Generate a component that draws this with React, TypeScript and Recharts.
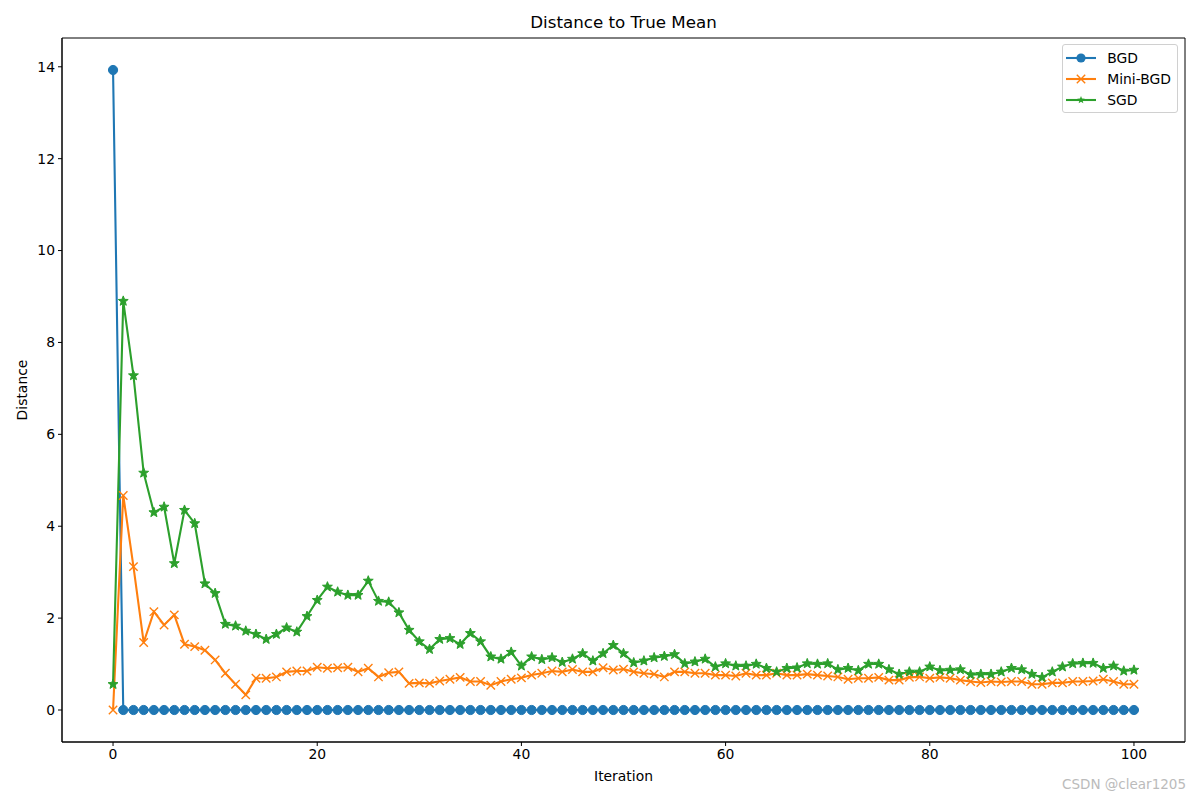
import React from "react";
import { LineChart, Line, XAxis, YAxis, ReferenceArea } from "recharts";

const iterations = [
  0, 1, 2, 3, 4, 5, 6, 7, 8, 9, 10, 11, 12, 13, 14, 15, 16, 17, 18, 19, 20,
  21, 22, 23, 24, 25, 26, 27, 28, 29, 30, 31, 32, 33, 34, 35, 36, 37, 38, 39,
  40, 41, 42, 43, 44, 45, 46, 47, 48, 49, 50, 51, 52, 53, 54, 55, 56, 57, 58,
  59, 60, 61, 62, 63, 64, 65, 66, 67, 68, 69, 70, 71, 72, 73, 74, 75, 76, 77,
  78, 79, 80, 81, 82, 83, 84, 85, 86, 87, 88, 89, 90, 91, 92, 93, 94, 95, 96,
  97, 98, 99, 100,
];

const bgdValues = [
  13.93, 0, 0, 0, 0, 0, 0, 0, 0, 0, 0, 0, 0, 0, 0, 0, 0, 0, 0, 0, 0,
  0, 0, 0, 0, 0, 0, 0, 0, 0, 0, 0, 0, 0, 0, 0, 0, 0, 0, 0,
  0, 0, 0, 0, 0, 0, 0, 0, 0, 0, 0, 0, 0, 0, 0, 0, 0, 0, 0,
  0, 0, 0, 0, 0, 0, 0, 0, 0, 0, 0, 0, 0, 0, 0, 0, 0, 0, 0,
  0, 0, 0, 0, 0, 0, 0, 0, 0, 0, 0, 0, 0, 0, 0, 0, 0, 0, 0,
  0, 0, 0, 0,
];

const miniBgdValues = [
  0.0, 4.67, 3.12, 1.47, 2.14, 1.85, 2.07, 1.43, 1.38, 1.3, 1.09, 0.8, 0.56,
  0.33, 0.69, 0.69, 0.72, 0.83, 0.85, 0.85, 0.93, 0.91, 0.92, 0.93, 0.83,
  0.91, 0.72, 0.81, 0.83, 0.58, 0.59, 0.58, 0.63, 0.67, 0.71, 0.62, 0.62,
  0.54, 0.62, 0.67, 0.7, 0.76, 0.8, 0.85, 0.83, 0.88, 0.83, 0.83, 0.92, 0.87,
  0.89, 0.83, 0.8, 0.78, 0.72, 0.83, 0.83, 0.8, 0.8, 0.76, 0.76, 0.74, 0.8,
  0.76, 0.76, 0.8, 0.76, 0.76, 0.78, 0.76, 0.74, 0.72, 0.67, 0.69, 0.69, 0.71,
  0.65, 0.65, 0.71, 0.72, 0.69, 0.71, 0.69, 0.65, 0.62, 0.6, 0.62, 0.61, 0.62,
  0.62, 0.56, 0.56, 0.59, 0.59, 0.62, 0.62, 0.63, 0.67, 0.62, 0.56, 0.56,
];

const sgdValues = [
  0.56, 8.9, 7.28, 5.16, 4.3, 4.42, 3.19, 4.35, 4.06, 2.75, 2.54, 1.87, 1.83,
  1.72, 1.65, 1.54, 1.65, 1.79, 1.7, 2.04, 2.39, 2.68, 2.57, 2.5, 2.5, 2.81,
  2.37, 2.35, 2.12, 1.74, 1.49, 1.32, 1.54, 1.56, 1.43, 1.67, 1.49, 1.16,
  1.11, 1.26, 0.96, 1.16, 1.1, 1.14, 1.04, 1.11, 1.23, 1.07, 1.23, 1.41, 1.23,
  1.03, 1.07, 1.14, 1.17, 1.21, 1.01, 1.05, 1.11, 0.94, 1.01, 0.96, 0.96, 1.0,
  0.91, 0.83, 0.91, 0.92, 1.01, 1.0, 1.01, 0.88, 0.91, 0.86, 1.0, 1.0, 0.88,
  0.78, 0.83, 0.83, 0.94, 0.86, 0.87, 0.88, 0.77, 0.78, 0.78, 0.83, 0.91,
  0.88, 0.78, 0.71, 0.83, 0.94, 1.01, 1.02, 1.02, 0.91, 0.96, 0.85, 0.87,
];

const xTicks = [0, 20, 40, 60, 80, 100];
const yTicks = [0, 2, 4, 6, 8, 10, 12, 14];

const data = iterations.map((it, i) => ({
  iteration: it,
  bgd: bgdValues[i],
  mini: miniBgdValues[i],
  sgd: sgdValues[i],
}));

const BLUE = "#1f77b4";
const ORANGE = "#ff7f0e";
const GREEN = "#2ca02c";
const FONT = "'DejaVu Sans', sans-serif";

function starPath(cx: number, cy: number, ro: number, ri: number) {
  let d = "";
  for (let k = 0; k < 10; k++) {
    const r = k % 2 === 0 ? ro : ri;
    const a = -Math.PI / 2 + (k * Math.PI) / 5;
    d += (k === 0 ? "M" : "L") + (cx + r * Math.cos(a)) + "," + (cy + r * Math.sin(a));
  }
  return d + "Z";
}

const CircleDot = (p: any) => (
  <circle key={p.key} cx={p.cx} cy={p.cy} r={4.6} fill={BLUE} stroke={BLUE} strokeWidth={1} />
);

const CrossDot = (p: any) => {
  const s = 4.2;
  return (
    <path
      key={p.key}
      d={`M${p.cx - s},${p.cy - s}L${p.cx + s},${p.cy + s}M${p.cx - s},${p.cy + s}L${p.cx + s},${p.cy - s}`}
      stroke={ORANGE}
      strokeWidth={1.4}
      fill="none"
    />
  );
};

const StarDot = (p: any) => (
  <path key={p.key} d={starPath(p.cx, p.cy, 5.2, 2.2)} fill={GREEN} stroke={GREEN} strokeWidth={1} />
);

const legendItems = [
  { name: "BGD", color: BLUE, kind: "circle" },
  { name: "Mini-BGD", color: ORANGE, kind: "cross" },
  { name: "SGD", color: GREEN, kind: "star" },
];

function LegendBox() {
  return (
    <div
      style={{
        position: "absolute",
        top: 44,
        right: 22,
        border: "1px solid #d0d0d0",
        borderRadius: 3,
        background: "rgba(255,255,255,0.8)",
        padding: "2px 6px 2px 2px",
        fontFamily: FONT,
        fontSize: 13.9,
        color: "#000",
        whiteSpace: "nowrap",
      }}
    >
      {legendItems.map((it) => (
        <div key={it.name} style={{ display: "flex", alignItems: "center", height: 21 }}>
          <svg width={32} height={14} style={{ marginRight: 10, flexShrink: 0 }}>
            <line x1={1} y1={7} x2={31} y2={7} stroke={it.color} strokeWidth={2.1} />
            {it.kind === "circle" && <circle cx={16} cy={7} r={4.6} fill={it.color} />}
            {it.kind === "cross" && (
              <path d="M11.8,2.8L20.2,11.2M11.8,11.2L20.2,2.8" stroke={it.color} strokeWidth={1.4} />
            )}
            {it.kind === "star" && <path d={starPath(16, 7, 4, 1.7)} fill={it.color} />}
          </svg>
          <span>{it.name}</span>
        </div>
      ))}
    </div>
  );
}

export default function App() {
  const tickStyle = { fill: "#000", fontSize: 13.9, fontFamily: FONT };
  return (
    <div style={{ position: "absolute", left: 0, top: 0, width: 1200, height: 800, background: "#fff" }}>
      <LineChart
        width={1200}
        height={800}
        data={data}
        margin={{ top: 38, right: 15, bottom: 28, left: 0 }}
      >
        <XAxis
          dataKey="iteration"
          type="number"
          domain={[-5, 105]}
          ticks={xTicks}
          allowDataOverflow
          height={30}
          tick={tickStyle}
          tickSize={4}
          tickMargin={3}
          stroke="#000"
        />
        <YAxis
          type="number"
          domain={[-0.6965, 14.6265]}
          ticks={yTicks}
          allowDataOverflow
          width={62}
          tick={tickStyle}
          tickSize={4}
          tickMargin={3}
          stroke="#000"
        />
        <ReferenceArea
          x1={-5}
          x2={105}
          y1={-0.6965}
          y2={14.6265}
          fill="none"
          stroke="#000"
          strokeWidth={1}
          fillOpacity={0}
          strokeOpacity={1}
        />
        <Line
          dataKey="bgd"
          name="BGD"
          stroke={BLUE}
          strokeWidth={2.1}
          dot={CircleDot}
          activeDot={false}
          isAnimationActive={false}
        />
        <Line
          dataKey="mini"
          name="Mini-BGD"
          stroke={ORANGE}
          strokeWidth={2.1}
          dot={CrossDot}
          activeDot={false}
          isAnimationActive={false}
        />
        <Line
          dataKey="sgd"
          name="SGD"
          stroke={GREEN}
          strokeWidth={2.1}
          dot={StarDot}
          activeDot={false}
          isAnimationActive={false}
        />
      </LineChart>
      <LegendBox />
      <div
        style={{
          position: "absolute",
          top: 12,
          left: 62,
          width: 1123,
          textAlign: "center",
          fontFamily: FONT,
          fontSize: 16.7,
          color: "#000",
        }}
      >
        Distance to True Mean
      </div>
      <div
        style={{
          position: "absolute",
          top: 768,
          left: 62,
          width: 1123,
          textAlign: "center",
          fontFamily: FONT,
          fontSize: 13.9,
          color: "#000",
        }}
      >
        Iteration
      </div>
      <div
        style={{
          position: "absolute",
          left: 22,
          top: 390,
          transform: "translate(-50%, -50%) rotate(-90deg)",
          fontFamily: FONT,
          fontSize: 13.9,
          color: "#000",
          whiteSpace: "nowrap",
        }}
      >
        Distance
      </div>
      <div
        style={{
          position: "absolute",
          right: 14,
          top: 776,
          fontFamily: FONT,
          fontSize: 13.5,
          color: "#bbb",
        }}
      >
        CSDN @clear1205
      </div>
    </div>
  );
}
